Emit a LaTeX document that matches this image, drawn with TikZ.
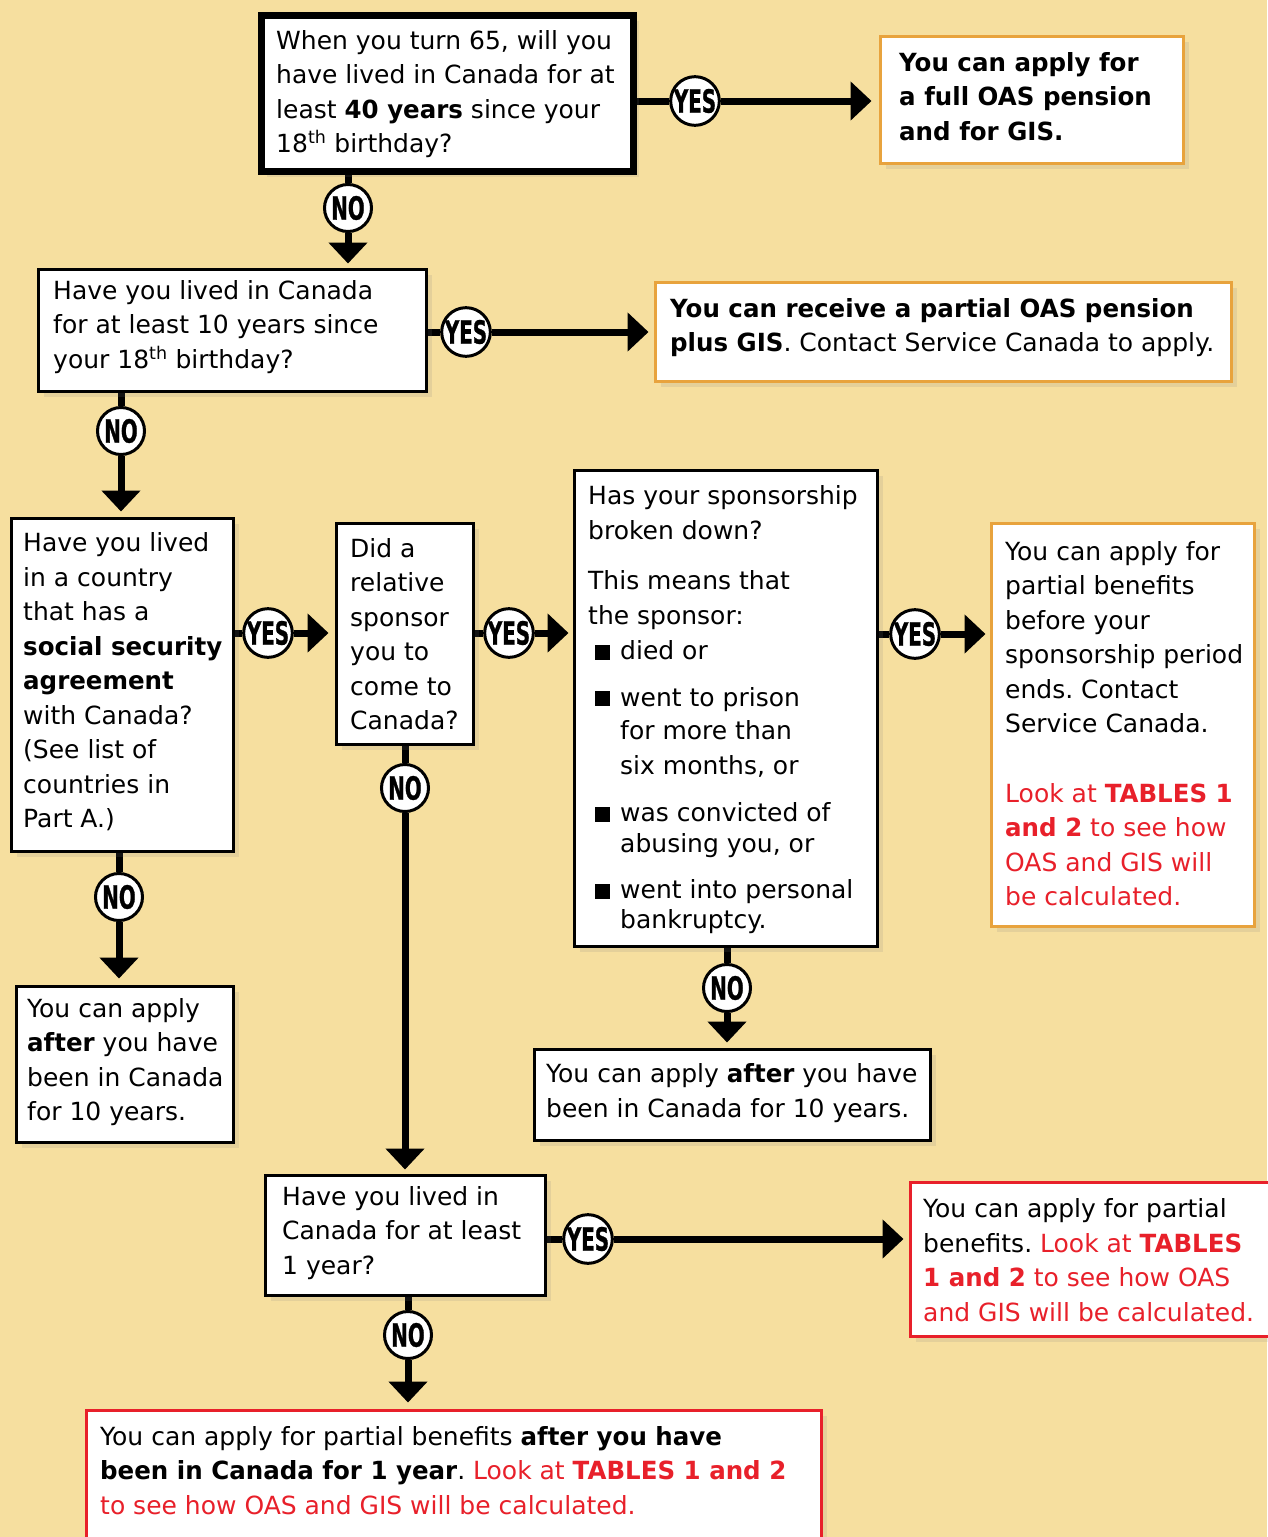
\documentclass[tikz,border=0pt]{standalone}
\usepackage{fontspec}
\setmainfont{DejaVu Sans}[BoldFeatures={FakeStretch=0.98}]
\newfontfamily\ynfont{DejaVu Sans}[FakeStretch=0.62, BoldFeatures={FakeBold=0.8}]
\usepackage{xcolor}
\usetikzlibrary{arrows.meta, positioning, shadows, backgrounds}

\definecolor{bgtan}{HTML}{F6DF9F}
\definecolor{oasorange}{HTML}{E8A33D}
\definecolor{oasred}{HTML}{E8202A}

\newcommand{\sqbul}{\hspace*{7pt}\rule{15pt}{15pt}\hspace*{10pt}}
\newcommand{\bulind}{\hspace*{32pt}}
\newcommand{\redtxt}[1]{\textcolor{oasred}{#1}}
\frenchspacing

\begin{document}
\begin{tikzpicture}[
    x=1pt, y=-1pt,
    qbox/.style={rectangle, draw, line width=3pt, fill=white, inner sep=0pt,
                 drop shadow={shadow xshift=5pt, shadow yshift=-5pt, opacity=0.15}},
    obox/.style={qbox, draw=oasorange},
    rbox/.style={qbox, draw=oasred},
    txt/.style={anchor=west, align=left, inner sep=0pt,
                font=\fontsize{25}{34.5}\selectfont},
    yn/.style={circle, draw, line width=3pt, fill=white, minimum size=47pt,
               inner sep=0pt, font=\fontsize{32}{32}\ynfont\bfseries},
    flow/.style={line width=7pt, -{Triangle[length=21pt, width=38pt]}}
]
\useasboundingbox (0,0) rectangle (1267,1537);

% boxes
\node[qbox, line width=7pt, minimum width=372pt, minimum height=156pt] (q1) at (447.5,93.5) {};
\node[obox, minimum width=303pt, minimum height=127pt] (a1) at (1032,100) {};
\node[qbox, minimum width=388pt, minimum height=122pt] (q2) at (232.5,330.5) {};
\node[obox, minimum width=576pt, minimum height=99pt]  (a2) at (943.5,332) {};
\node[qbox, minimum width=222pt, minimum height=333pt] (q3) at (122.5,685) {};
\node[qbox, minimum width=137pt, minimum height=221pt] (q4) at (405,634) {};
\node[qbox, minimum width=303pt, minimum height=476pt] (q5) at (726,708.5) {};
\node[obox, minimum width=263pt, minimum height=403pt] (a5) at (1123,725) {};
\node[qbox, minimum width=217pt, minimum height=156pt] (a3) at (125,1064.5) {};
\node[qbox, minimum width=396pt, minimum height=91pt]  (a4) at (732.5,1095) {};
\node[qbox, minimum width=280pt, minimum height=120pt] (q6) at (405.5,1235.5) {};
\node[rbox, minimum width=378pt, minimum height=154pt] (a6) at (1099.5,1259.5) {};
\node[rbox, minimum width=735pt, minimum height=168pt] (a7) at (454,1494.5) {};

% texts
\node[txt] (q1t) at (276,94) {When you turn 65, will you\\have lived in Canada for at\\
    least \textbf{40 years} since your\\18\textsuperscript{th} birthday?};
\node[txt, font=\fontsize{25}{34.5}\selectfont\bfseries] (a1t) at (899,96.5)
    {You can apply for\\a full OAS pension\\and for GIS.};
\node[txt] (q2t) at (53,327) {Have you lived in Canada\\for at least 10 years since\\
    your 18\textsuperscript{th} birthday?};
\node[txt] (a2t) at (670,327.5) {\textbf{You can receive a partial OAS pension}\\
    \textbf{plus GIS}. Contact Service Canada to apply.};
\node[txt] (q3t) at (23,682) {Have you lived\\in a country\\that has a\\
    \textbf{social security}\\\textbf{agreement}\\with Canada?\\(See list of\\countries in\\Part A.)};
\node[txt] (q4t) at (350,634) {Did a\\relative\\sponsor\\you to\\come to\\Canada?};
\node[txt] (q5t) at (588,709.5) {Has your sponsorship\\broken down?\\[16pt]
    This means that\\the sponsor:\\[1pt]
    \sqbul died or\\[12pt]
    \sqbul went to prison\\[-1pt]\bulind for more than\\\bulind six months, or\\[13pt]
    \sqbul was convicted of\\[-4pt]\bulind abusing you, or\\[12pt]
    \sqbul went into personal\\[-5pt]\bulind bankruptcy.};
\node[txt] (a5t) at (1005,723.5) {You can apply for\\partial benefits\\before your\\
    sponsorship period\\ends. Contact\\Service Canada.\\[35pt]
    \redtxt{Look at \textbf{TABLES 1}}\\\redtxt{\textbf{and 2} to see how}\\
    \redtxt{OAS and GIS will}\\\redtxt{be calculated.}};
\node[txt] (a3t) at (27,1062) {You can apply\\\textbf{after} you have\\been in Canada\\for 10 years.};
\node[txt] (a4t) at (546,1093) {You can apply \textbf{after} you have\\been in Canada for 10 years.};
\node[txt] (q6t) at (282,1233) {Have you lived in\\Canada for at least\\1 year?};
\node[txt] (a6t) at (923,1260) {You can apply for partial\\benefits. \redtxt{Look at \textbf{TABLES}}\\
    \redtxt{\textbf{1 and 2} to see how OAS}\\\redtxt{and GIS will be calculated.}};
\node[txt] (a7t) at (100,1470.5) {You can apply for partial benefits \textbf{after you have}\\
    \textbf{been in Canada for 1 year}. \redtxt{Look at \textbf{TABLES 1 and 2}}\\
    \redtxt{to see how OAS and GIS will be calculated.}};

% yes / no marks
\node[yn] (y1) at (695,101)  {YES};
\node[yn] (n1) at (348,208)  {NO};
\node[yn] (y2) at (466,332)  {YES};
\node[yn] (n2) at (121,431)  {NO};
\node[yn] (y3) at (268,633)  {YES};
\node[yn] (n3) at (119,897)  {NO};
\node[yn] (y4) at (509,633)  {YES};
\node[yn] (n4) at (405,788)  {NO};
\node[yn] (y5) at (915,634)  {YES};
\node[yn] (n5) at (727,988)  {NO};
\node[yn] (y6) at (588,1239) {YES};
\node[yn] (n6) at (408,1335) {NO};

\begin{scope}[on background layer]
\fill[bgtan] (0,0) rectangle (1267,1537);
\draw[flow, shorten >=7.5pt] (q1.east |- y1) -- (y1) -- (y1 -| a1.west);
\draw[flow, shorten >=4.5pt] (q1.south -| n1) -- (n1) -- (n1 |- q2.north);
\draw[flow, shorten >=5.5pt] (q2.east |- y2) -- (y2) -- (y2 -| a2.west);
\draw[flow, shorten >=5.5pt] (q2.south -| n2) -- (n2) -- (n2 |- q3.north);
\draw[flow, shorten >=6.5pt] (q3.east |- y3) -- (y3) -- (y3 -| q4.west);
\draw[flow, shorten >=6.5pt] (q3.south -| n3) -- (n3) -- (n3 |- a3.north);
\draw[flow, shorten >=4.5pt] (q4.east |- y4) -- (y4) -- (y4 -| q5.west);
\draw[flow, shorten >=4.5pt] (q4.south -| n4) -- (n4) -- (n4 |- q6.north);
\draw[flow, shorten >=4.5pt] (q5.east |- y5) -- (y5) -- (y5 -| a5.west);
\draw[flow, shorten >=5.5pt] (q5.south -| n5) -- (n5) -- (n5 |- a4.north);
\draw[flow, shorten >=5.5pt] (q6.east |- y6) -- (y6) -- (y6 -| a6.west);
\draw[flow, shorten >=6.5pt] (q6.south -| n6) -- (n6) -- (n6 |- a7.north);
\end{scope}
\end{tikzpicture}
\end{document}
